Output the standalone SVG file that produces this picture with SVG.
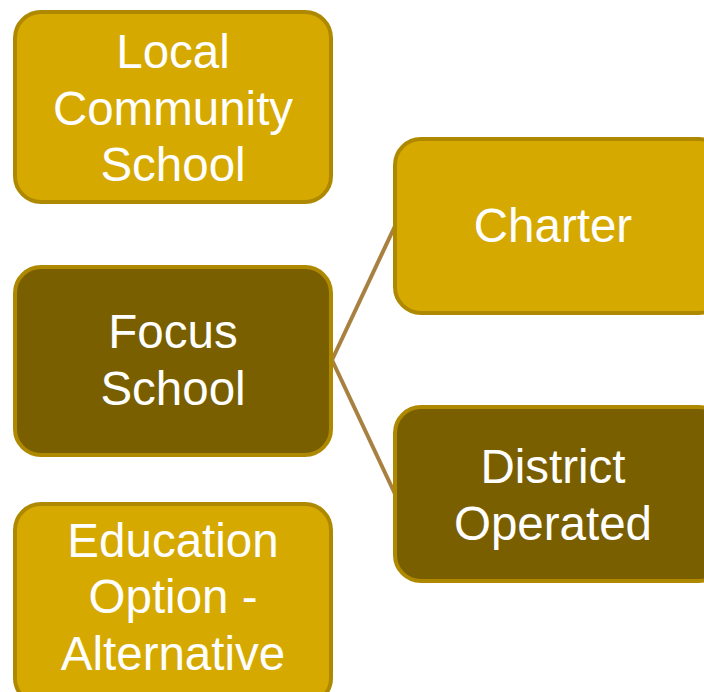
<svg xmlns="http://www.w3.org/2000/svg" width="704" height="692" viewBox="0 0 704 692">
  <style>
    .box { stroke: #AE8900; stroke-width: 4; }
    .light { fill: #D6A900; }
    .dark { fill: #7A5F00; }
    .label { fill: #FFFFFF; font-family: "Liberation Sans", Arial, sans-serif; font-size: 47.5px; text-anchor: middle; }
    .link { stroke: #A8803F; stroke-width: 4; fill: none; }
  </style>
  <rect width="704" height="692" fill="#FFFFFF"/>

  <g id="connectors">
    <line class="link" x1="332" y1="360" x2="395" y2="226"/>
    <line class="link" x1="332" y1="360" x2="395" y2="494"/>
  </g>

  <g id="local-community-school">
    <rect class="box light" x="15" y="12" width="316" height="190" rx="26"/>
    <text class="label" x="173" y="68">Local</text>
    <text class="label" x="173" y="125">Community</text>
    <text class="label" x="173" y="181">School</text>
  </g>

  <g id="focus-school">
    <rect class="box dark" x="15" y="267" width="316" height="188" rx="26"/>
    <text class="label" x="173" y="348">Focus</text>
    <text class="label" x="173" y="405">School</text>
  </g>

  <g id="education-option-alternative">
    <rect class="box light" x="15" y="504" width="316" height="200" rx="26"/>
    <text class="label" x="173" y="557">Education</text>
    <text class="label" x="173" y="613">Option -</text>
    <text class="label" x="173" y="670">Alternative</text>
  </g>

  <g id="charter">
    <rect class="box light" x="395" y="139" width="330" height="174" rx="26"/>
    <text class="label" x="553" y="242">Charter</text>
  </g>

  <g id="district-operated">
    <rect class="box dark" x="395" y="407" width="330" height="174" rx="26"/>
    <text class="label" x="553" y="483">District</text>
    <text class="label" x="553" y="540">Operated</text>
  </g>
</svg>
